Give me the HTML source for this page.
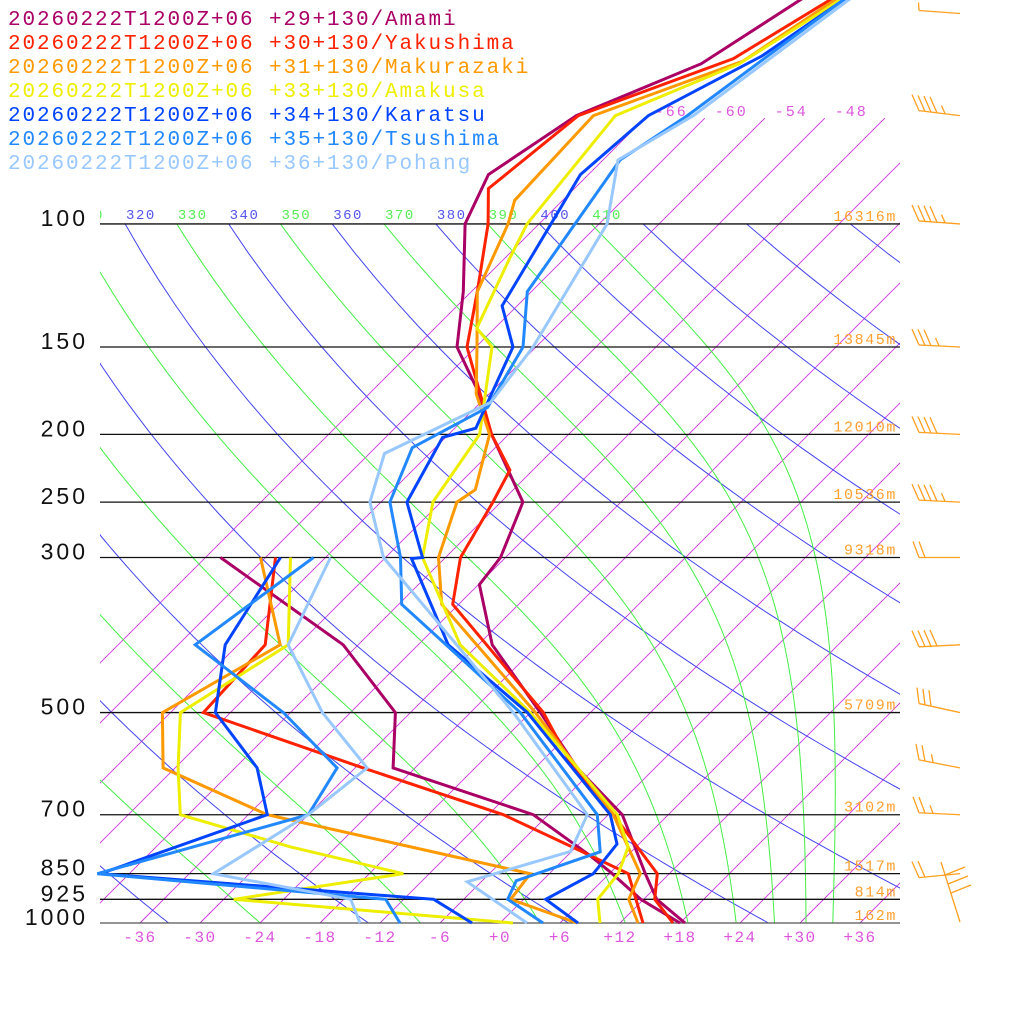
<!DOCTYPE html>
<html><head><meta charset="utf-8"><style>
html,body{margin:0;padding:0;background:#fff;}
svg{display:block;}
</style></head><body>
<svg id="chart" width="1024" height="1024" viewBox="0 0 1024 1024" xmlns="http://www.w3.org/2000/svg">
<defs>
<clipPath id="clipIso"><rect x="100" y="117" width="800" height="807"/></clipPath>
<clipPath id="clipAd"><rect x="100" y="224" width="800" height="700"/></clipPath>
<clipPath id="clipData"><rect x="95" y="-20" width="805" height="945"/></clipPath>
<clipPath id="clipLab"><rect x="100" y="190" width="800" height="40"/></clipPath>
</defs>
<g id="isotherms" clip-path="url(#clipIso)"></g>
<g id="isoLabels"></g>
<g id="dryAd" clip-path="url(#clipAd)"></g>
<g id="moistAd" clip-path="url(#clipAd)"></g>
<g id="thetaLabels" clip-path="url(#clipLab)"></g>
<g id="levels"></g>
<g id="series" clip-path="url(#clipData)"></g>
<g id="xLabels"></g>
<g id="barbs"></g>
<g id="legend"></g>
</svg>
<script>
// ---- data ----
const pressureLevels = [100,150,200,250,300,500,700,850,925,1000];
const pressureLabels = ["100","150","200","250","300","500","700","850","925","1000"];
const heightLabels = ["16316m","13845m","12010m","10536m","9318m","5709m","3102m","1517m","814m","162m"];
const tempTicks = [-36,-30,-24,-18,-12,-6,0,6,12,18,24,30,36];
const isoTemps = [-66,-60,-54,-48,-42,-36,-30,-24,-18,-12,-6,0,6,12,18,24,30,36];
const dryThetas = [240,260,280,300,320,340,360,380,400,420,440,460,480,500,520,540,560,580,600];
const moistThetas = [230,250,270,290,310,330,350,370,390,410];
const legendNames = ["+29+130/Amami","+30+130/Yakushima","+31+130/Makurazaki","+33+130/Amakusa","+34+130/Karatsu","+35+130/Tsushima","+36+130/Pohang"];
const colors = ["#aa0066","#ff2200","#ff9900","#eeee00","#0044ff","#2288ff","#99c8ff"];

const amamiTp = [40,59,70,85,100,125,150,175,200,250,300,328,400,500,600,700,850,925,1000];
const amamiT  = [-59.3,-65.8,-73.1,-76.0,-73.4,-66.8,-61.9,-55.0,-49.7,-39.8,-36.5,-35.9,-28.6,-17.0,-7.8,1.4,9.6,13.3,18.5];
const amamiDp = [300,400,500,600,700,800,850,925,1000];
const amamiD  = [-64.5,-43.5,-31.5,-26.2,-7.5,2.2,6.3,11.7,18.0];

const yakuTp = [40,58,70,89,100,125,150,200,225,250,300,350,500,600,700,850,925,1000];
const yakuT  = [-55.8,-63.1,-72.9,-74.6,-71.1,-65.4,-60.9,-49.7,-44.3,-42.8,-40.5,-36.6,-16.7,-8.2,0.5,10.8,13.1,17.3];
const yakuDp = [300,400,500,600,700,775,850,1000];
const yakuD  = [-59.0,-51.3,-50.7,-29.2,-10.5,-0.8,7.9,14.3];

const makuTp = [40,58.5,70,92.5,100,125,150,175,200,240,250,300,350,500,700,850,925,1000];
const makuT  = [-56.1,-61.9,-71.4,-70.8,-69.1,-65.4,-59.9,-55.3,-49.9,-45.8,-46.4,-42.7,-37.7,-17.5,0.5,9.1,10.5,13.8];
const makuDp = [300,400,500,600,700,850,925,1000];
const makuD  = [-60.5,-49.8,-54.8,-49.2,-34.1,-1.9,-1.3,7.7];

const amakTp = [40,59,70,100,112,141,150,200,250,300,400,500,700,778,850,925,1000];
const amakT  = [-55.1,-62.0,-69.2,-67.2,-65.5,-61.8,-58.4,-50.9,-48.8,-44.3,-31.8,-18.0,0.9,5.2,6.9,7.4,10.0];
const amakDp = [300,400,500,600,700,778,850,925,1000];
const amakD  = [-57.5,-49.0,-53.0,-47.7,-42.8,-28.6,-14.6,-29.0,1.3];

const karaTp = [40,57.5,70,85,131,150,196,202,250,300,301,400,500,700,771,850,925,1000];
const karaT  = [-55.5,-60.5,-65.9,-66.8,-61.5,-56.3,-51.9,-54.3,-51.4,-44.3,-45.3,-33.0,-18.3,0.2,3.8,4.4,2.2,7.8];
const karaDp = [300,400,500,600,700,850,925,1000];
const karaD  = [-58.5,-55.3,-49.5,-39.8,-34.1,-44.9,-9.0,-2.8];

const tsusTp = [40,70,81,125,150,183,209,250,300,350,500,700,791,870,925,1000];
const tsusT  = [-56.1,-62.0,-64.3,-60.4,-55.3,-52.8,-56.3,-53.1,-46.5,-41.7,-19.0,-1.1,2.9,-2.6,-1.6,4.3];
const tsusDp = [300,400,500,600,700,850,925,1000];
const tsusD  = [-55.2,-58.3,-42.7,-31.8,-30.0,-45.2,-13.8,-10.0];

const pohaTp = [40,70,81,100,150,180,213,250,300,500,700,790,873,1000];
const pohaT  = [-55.6,-61.4,-64.5,-59.2,-54.3,-53.0,-58.5,-55.1,-48.2,-19.7,-2.1,-0.1,-7.4,2.7];
const pohaDp = [300,400,500,600,700,850,925,1000];
const pohaD  = [-53.5,-49.0,-38.8,-28.8,-30.0,-33.6,-17.3,-14.0];

const barbP     = [50,70,100,150,200,250,300,400,500,600,700,850];
const barbFull  = [0,4,4,3,4,4,2,4,3,2,2,2];
const barbHalf  = [1,1,1,1,0,1,0,0,0,1,1,0];

// ---- axis functions ----
const NS = "http://www.w3.org/2000/svg";
function yOf(p){ return 923 - 303.6*Math.log(1000/p); }
function xOf(T,p){ return 500 + 10*T + (923 - yOf(p)); }
function mk(tag, attrs, parent){
  const e = document.createElementNS(NS, tag);
  for (const k in attrs) e.setAttribute(k, attrs[k]);
  parent.appendChild(e); return e;
}
function pathFrom(ps, ts){
  let d = "";
  for (let i=0;i<ps.length;i++){ d += (i?"L":"M") + xOf(ts[i],ps[i]).toFixed(1) + " " + yOf(ps[i]).toFixed(1); }
  return d;
}

// isotherms
const gIso = document.getElementById("isotherms");
const gIsoL = document.getElementById("isoLabels");
isoTemps.forEach(T => {
  const pTop = 70.6;
  const l = mk("line", {x1:xOf(T,1000), y1:yOf(1000), x2:xOf(T,pTop), y2:yOf(pTop), stroke:"#cc33dd", "stroke-width":0.9}, gIso);
  
  
  const xt = xOf(T,pTop);
  if (xt + 40 < 900) {
    const t = mk("text", {x:xt+10, y:116, fill:"#dd55dd", "font-family":"Liberation Mono, monospace", "font-size":15, "letter-spacing":2}, gIsoL);
    t.textContent = String(T);
    
    
  }
});

// dry adiabats
const gDry = document.getElementById("dryAd");
const gTL = document.getElementById("thetaLabels");
dryThetas.forEach(th => {
  let d = "";
  for (let p=100; p<=1000; p+=10){
    const T = th*Math.pow(p/1000,0.2857) - 273.15;
    d += (p===100?"M":"L") + xOf(T,p).toFixed(1) + " " + yOf(p).toFixed(1);
  }
  const e = mk("path", {d:d, fill:"none", stroke:"#4444ee", "stroke-width":1}, gDry);
  
  
  if (th>=310 && th<=410){
    const t = mk("text", {x:xOf(th*Math.pow(0.1,0.2857)-273.15,100)+1, y:219, fill:"#5555ee", "font-family":"Liberation Mono, monospace", "font-size":14, "letter-spacing":1.5}, gTL);
    t.textContent = String(th);
    
    
  }
});

// moist adiabats
const gMoist = document.getElementById("moistAd");
moistThetas.forEach(th => {
  let p = 100, T = th*Math.pow(0.1,0.2857);
  let d = "M" + xOf(T-273.15,p).toFixed(1) + " " + yOf(p).toFixed(1);
  while (p < 1000){
    const dp = 2;
    const Tc = T - 273.15;
    const es = 6.112*Math.exp(17.67*Tc/(Tc+243.5));
    const rs = 0.622*es/(p-es);
    const dTdp = (287*T + 2.5e6*rs)/(p*(1004 + (2.5e6*2.5e6*rs*0.622)/(287*T*T)));
    T += dTdp*dp; p += dp;
    d += "L" + xOf(T-273.15,p).toFixed(1) + " " + yOf(p).toFixed(1);
  }
  const e = mk("path", {d:d, fill:"none", stroke:"#44ee44", "stroke-width":1}, gMoist);
  
  
  if (th>=310){
    const t = mk("text", {x:xOf(th*Math.pow(0.1,0.2857)-273.15,100)+1, y:219, fill:"#55ee55", "font-family":"Liberation Mono, monospace", "font-size":14, "letter-spacing":1.5}, gTL);
    t.textContent = String(th);
    
    
  }
});

// pressure levels
const gLev = document.getElementById("levels");
pressureLevels.forEach((p,i) => {
  const y = yOf(p);
  const l = mk("line", {x1:100, y1:y, x2:900, y2:y, stroke:(p===1000?"#555":"#111"), "stroke-width":1.3}, gLev);
  
  
  const t = mk("text", {x:88, y:y+2, "text-anchor":"end", fill:"#111", "font-family":"Liberation Sans, sans-serif", "font-size":23, "letter-spacing":3}, gLev);
  t.textContent = pressureLabels[i];
  
  
  const h = mk("text", {x:897, y:y-3, "text-anchor":"end", fill:"#ffa030", "font-family":"Liberation Mono, monospace", "font-size":15, "letter-spacing":1.6}, gLev);
  h.textContent = heightLabels[i];
  
  
});

// temperature tick labels
const gX = document.getElementById("xLabels");
tempTicks.forEach(T => {
  const t = mk("text", {x:500+10*T, y:942, "text-anchor":"middle", fill:"#dd55dd", "font-family":"Liberation Mono, monospace", "font-size":16, "letter-spacing":1.5}, gX);
  t.textContent = (T>=0?"+":"") + T;
  
  
});

// series
const gS = document.getElementById("series");
const seriesList = [
  [amamiTp,amamiT,amamiDp,amamiD],[yakuTp,yakuT,yakuDp,yakuD],[makuTp,makuT,makuDp,makuD],
  [amakTp,amakT,amakDp,amakD],[karaTp,karaT,karaDp,karaD],[tsusTp,tsusT,tsusDp,tsusD],[pohaTp,pohaT,pohaDp,pohaD]];
seriesList.forEach((s,i) => {
  const a = mk("path", {d:pathFrom(s[0],s[1]), fill:"none", stroke:colors[i], "stroke-width":3, "stroke-linejoin":"miter"}, gS);
  
  
  const b = mk("path", {d:pathFrom(s[2],s[3]), fill:"none", stroke:colors[i], "stroke-width":3, "stroke-linejoin":"miter"}, gS);
  
  
});

// legend
const gL = document.getElementById("legend");
legendNames.forEach((n,i) => {
  const t = mk("text", {x:8, y:25+24*i, fill:colors[i], "font-family":"Liberation Mono, monospace", "font-size":21, "letter-spacing":1.9}, gL);
  t.textContent = "20260222T1200Z+06 " + n;
  
  
});

// wind barbs
const gB = document.getElementById("barbs");
const barbTilt = [3,5,3,2,2,2,0,-2,9,8,2,-4];
const barbDx = [-1,-7,-7,-7,-7,-7,-6,-7,-2,-3,-6,-7];
barbP.forEach((p,i) => {
  const yb = yOf(p);
  const x0 = 960, x1 = 919, y1 = yb - barbTilt[i];
  const s = mk("line", {x1:x0, y1:yb, x2:x1, y2:y1, stroke:"#ffa020", "stroke-width":1.3}, gB);
  
  
  let k = 0;
  for (let j=0;j<barbFull[i];j++,k++){
    const bx = x1 + k*6, by = y1 + (yb-y1)*(k*6)/(x0-x1);
    const b = mk("line", {x1:bx, y1:by, x2:bx+barbDx[i], y2:by-16, stroke:"#ffa020", "stroke-width":1.3}, gB);
    
    
  }
  if (barbHalf[i]){
    const bx = x1 + k*6 + (barbFull[i]?2:0), by = y1 + (yb-y1)*(k*6)/(x0-x1);
    const b = mk("line", {x1:bx, y1:by, x2:bx+barbDx[i]/2, y2:by-8, stroke:"#ffa020", "stroke-width":1.3}, gB);
    
    
  }
});
// surface barb (sheared, low levels)
(function(){
  const s = mk("line", {x1:960, y1:922, x2:941, y2:862, stroke:"#ffa020", "stroke-width":1.3}, gB);
  
  
  [[945,875],[948,884],[951,893]].forEach(q => {
    const b = mk("line", {x1:q[0], y1:q[1], x2:q[0]+20, y2:q[1]-8, stroke:"#ffa020", "stroke-width":1.3}, gB);
    
    
  });
})();
</script>
</body></html>
